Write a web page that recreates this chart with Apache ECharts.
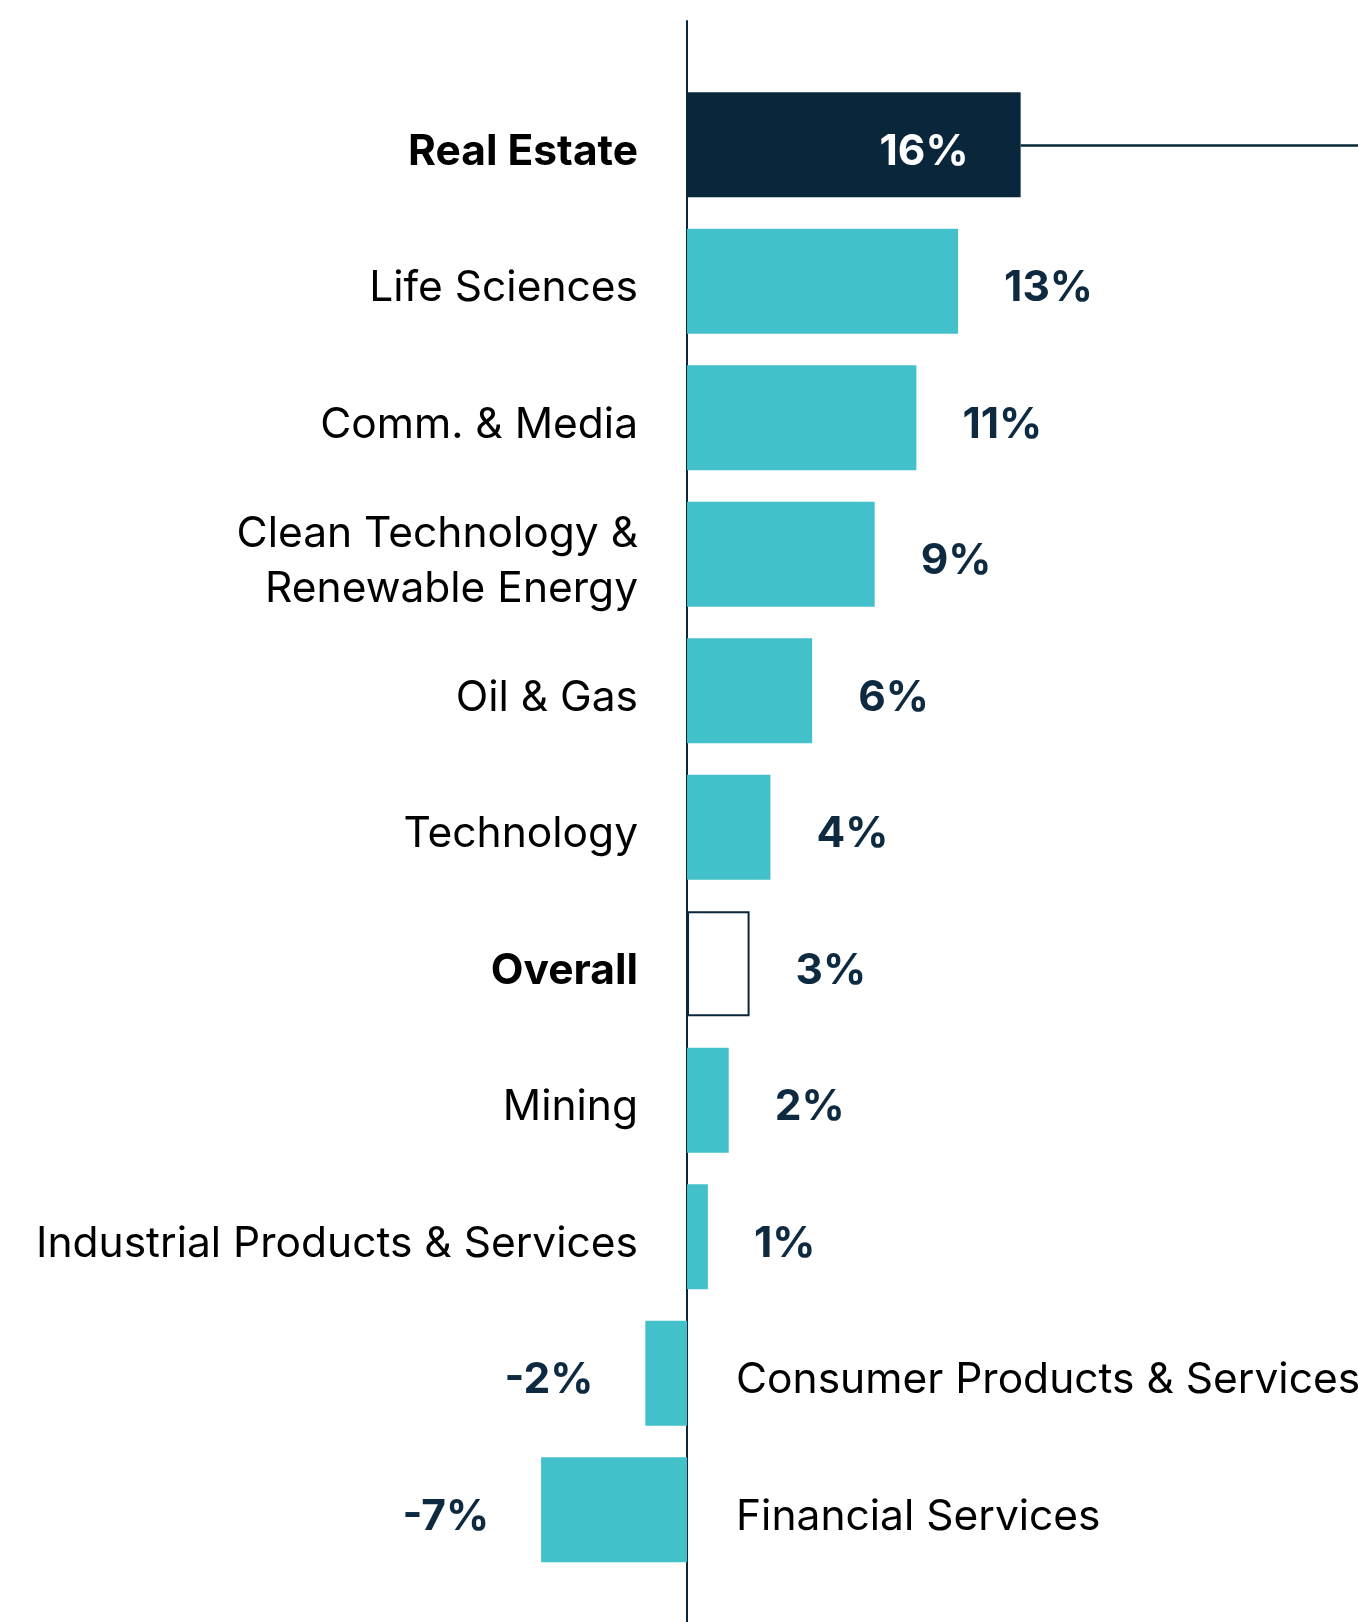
<!DOCTYPE html>
<html>
<head>
<meta charset="utf-8">
<script src="https://cdn.jsdelivr.net/npm/echarts@6/dist/echarts.min.js"></script>
<style>
html,body{margin:0;padding:0;background:#fff;}
#chart{width:1358px;height:1622px;}
</style>
</head>
<body>
<div id="chart"></div>
<script>
const categories = [
  'Real Estate', 'Life Sciences', 'Comm. & Media',
  'Clean Technology &\nRenewable Energy', 'Oil & Gas', 'Technology',
  'Overall', 'Mining', 'Industrial Products & Services',
  'Consumer Products & Services', 'Financial Services'
];
const values = [16, 13, 11, 9, 6, 4, 3, 2, 1, -2, -7];
const highlight = 'Real Estate';
const outlined = 'Overall';

const NAVY = '#0a263a';
const TEAL = '#43c1ca';
const FONT = 'Inter';
const X_MIN = -32.95, X_MAX = 32.18;

const barData = values.map((v, i) => {
  const c = categories[i];
  const item = { value: v };
  if (c === highlight) {
    item.itemStyle = { color: NAVY };
    item.label = { position: 'insideRight', distance: 52, color: '#ffffff' };
  } else if (c === outlined) {
    item.itemStyle = { color: '#ffffff', borderColor: NAVY, borderWidth: 2 };
  }
  if (v < 0) item.label = { position: 'left', distance: 52 };
  return item;
});

const nameData = values.map((v, i) => {
  const c = categories[i];
  const bold = (c === highlight || c === outlined);
  return {
    value: 0,
    label: {
      position: v < 0 ? 'right' : 'left',
      align: v < 0 ? 'left' : 'right',
      fontWeight: bold ? 'bold' : 'normal'
    }
  };
});

const chart = echarts.init(document.getElementById('chart'));
chart.setOption({
  animation: false,
  backgroundColor: '#ffffff',
  grid: [
    { left: 0, right: 0, top: 76.5, height: 1501.5 },
    { left: 0, right: 0, top: 21, bottom: 0 }
  ],
  xAxis: [
    { gridIndex: 0, type: 'value', min: X_MIN, max: X_MAX, show: false },
    { gridIndex: 1, type: 'value', min: X_MIN, max: X_MAX, show: false }
  ],
  yAxis: [
    { gridIndex: 0, type: 'category', data: categories, inverse: true, show: false },
    { gridIndex: 1, type: 'value', min: 0, max: 1,
      axisLine: { show: true, onZero: true, lineStyle: { color: NAVY, width: 2 } },
      axisTick: { show: false }, axisLabel: { show: false }, splitLine: { show: false } }
  ],
  series: [
    {
      type: 'bar',
      xAxisIndex: 0, yAxisIndex: 0,
      data: barData,
      barWidth: 105,
      z: 3,
      itemStyle: { color: TEAL },
      label: {
        show: true,
        position: 'right',
        distance: 46,
        offset: [0, 7],
        formatter: p => p.value + '%',
        fontFamily: FONT,
        fontWeight: 'bold',
        fontSize: 42.5,
        color: '#0d2a40'
      },
      markLine: {
        silent: true,
        symbol: ['none', 'none'],
        label: { show: false },
        lineStyle: { color: NAVY, width: 2.5, type: 'solid' },
        data: [[
          { coord: [values[categories.indexOf(highlight)], highlight] },
          { coord: [X_MAX, highlight] }
        ]]
      }
    },
    {
      type: 'bar',
      xAxisIndex: 0, yAxisIndex: 0,
      data: nameData,
      barWidth: 105,
      barGap: '-100%',
      z: 2,
      itemStyle: { color: 'transparent' },
      label: {
        show: true,
        distance: 49,
        offset: [0, 7],
        formatter: p => categories[p.dataIndex],
        fontFamily: FONT,
        fontSize: 42.5,
        lineHeight: 55,
        color: '#000000'
      }
    }
  ]
});
</script>
</body>
</html>
